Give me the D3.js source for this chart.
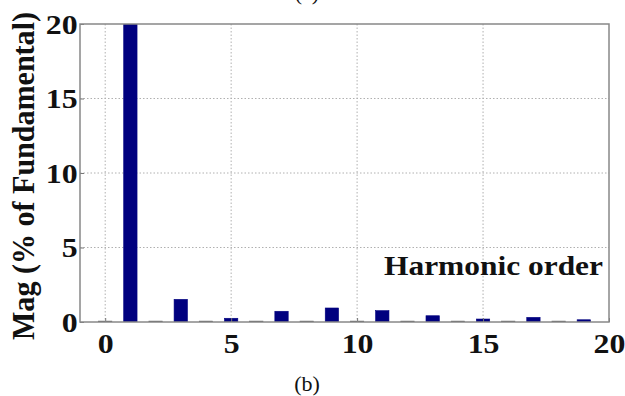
<!DOCTYPE html>
<html lang="en">
<head>
    <meta charset="UTF-8">
    <title>Harmonic spectrum</title>
    <style>
        body { margin: 0; background: #fff; }
        svg { display: block; }
        .serif { font-family: "Liberation Serif", "Times New Roman", Times, serif; }
    </style>
</head>
<body>
    <div id="chart"></div>
    <script src="https://d3js.org/d3.v7.min.js"></script>
    <script>

    // harmonic orders and their magnitudes (% of fundamental)
    const orders = [0, 1, 2, 3, 4, 5, 6, 7, 8, 9, 10, 11, 12, 13, 14, 15, 16, 17, 18, 19];
    const mags = [0.06, 100, 0.06, 1.52, 0.06, 0.25, 0.06, 0.72, 0.06, 0.94,
                  0.06, 0.76, 0.06, 0.42, 0.06, 0.2, 0.06, 0.31, 0.06, 0.15];
    const xTicks = [0, 5, 10, 15, 20];
    const yTicks = [0, 5, 10, 15, 20];

    const data = orders.map((o, i) => ({order: o, mag: mags[i]}));

    // set up the page
    const margin = {top: 24, right: 16, bottom: 74, left: 80},
        width = 625 - margin.left - margin.right,
        height = 396 - margin.top - margin.bottom;

    // the original picture is a bit stretched sideways, so are its letters
    const stretch = 1.18;

    const root = d3.select("#chart")
        .append("svg")
        .attr("width", 625)
        .attr("height", 396);

    const svg = root.append("g")
        .attr("transform", `translate(${margin.left}, ${margin.top})`);

    const x = d3.scaleLinear()
        .domain([-1, 20])
        .range([0, width]);

    const y = d3.scaleLinear()
        .domain([0, 20])
        .range([height, 0]);

    // dotted gridlines
    svg.append("g")
        .selectAll("line")
        .data(xTicks.filter(d => d < 20))
        .join("line")
        .attr("x1", d => x(d)).attr("x2", d => x(d))
        .attr("y1", 0).attr("y2", height)
        .attr("stroke", "#b0b0b0")
        .attr("stroke-width", 1)
        .attr("stroke-dasharray", "1.5,2");

    svg.append("g")
        .selectAll("line")
        .data(yTicks.filter(d => d > 0 && d < 20))
        .join("line")
        .attr("x1", 0).attr("x2", width)
        .attr("y1", d => y(d)).attr("y2", d => y(d))
        .attr("stroke", "#b0b0b0")
        .attr("stroke-width", 1)
        .attr("stroke-dasharray", "1.5,2");

    // clip so the fundamental is cut at the top
    svg.append("clipPath")
        .attr("id", "plot-clip")
        .append("rect")
        .attr("width", width)
        .attr("height", height);

    const barW = (x(1) - x(0)) * 0.53;

    svg.append("g")
        .attr("clip-path", "url(#plot-clip)")
        .selectAll("rect")
        .data(data)
        .join("rect")
        .attr("x", d => x(d.order) - barW / 2)
        .attr("y", d => y(d.mag))
        .attr("width", barW)
        .attr("height", d => height - y(d.mag))
        .attr("fill", d => d.order % 2 === 1 ? "#00007f" : "#555555")
        .attr("stroke", d => d.order % 2 === 1 ? "#00007f" : "#555555")
        .attr("stroke-width", 0.6);

    // axes (ticks point inward, like the reference)
    const xAxis = svg.append("g")
        .attr("transform", `translate(0, ${height})`)
        .call(d3.axisBottom(x).tickValues(xTicks).tickSize(-4));

    const yAxis = svg.append("g")
        .call(d3.axisLeft(y).tickValues(yTicks).tickSize(-4).tickPadding(4));

    [xAxis, yAxis].forEach(a => {
        a.attr("font-family", null).attr("font-size", null);
        a.select(".domain").remove();
        a.selectAll("line").attr("stroke", "#777");
        a.selectAll("text")
            .attr("class", "serif")
            .style("font-weight", "bold")
            .style("font-size", "27px")
            .attr("fill", "#111")
            .attr("transform", `scale(${stretch},1)`);
    });
    xAxis.selectAll("text").attr("dy", "0.71em").attr("y", 12);
    yAxis.selectAll("text").attr("dy", "0.34em").attr("x", -2);

    // frame
    svg.append("rect")
        .attr("width", width)
        .attr("height", height)
        .attr("fill", "none")
        .attr("stroke", "#888")
        .attr("stroke-width", 1.5);

    // x label sits inside the plot
    svg.append("text")
        .attr("class", "serif")
        .attr("x", width - 6)
        .attr("y", y(3.15))
        .attr("text-anchor", "end")
        .style("font-weight", "bold")
        .style("font-size", "27px")
        .attr("fill", "#111")
        .attr("textLength", 219)
        .attr("lengthAdjust", "spacingAndGlyphs")
        .text("Harmonic order");

    // y label
    root.append("text")
        .attr("class", "serif")
        .attr("transform", "rotate(-90)")
        .attr("x", -176)
        .attr("y", 34)
        .attr("text-anchor", "middle")
        .style("font-weight", "bold")
        .style("font-size", "31px")
        .attr("fill", "#111")
        .attr("textLength", 328)
        .attr("lengthAdjust", "spacingAndGlyphs")
        .text("Mag (% of Fundamental)");

    // sub-figure captions
    root.append("text")
        .attr("class", "serif")
        .attr("x", 307)
        .attr("y", 391)
        .attr("text-anchor", "middle")
        .style("font-size", "22px")
        .attr("fill", "#111")
        .text("(b)");

    // "(a)" of the panel above, mostly cut off at the top edge as in the reference
    root.append("text")
        .attr("class", "serif")
        .attr("x", 307)
        .attr("y", 0)
        .attr("text-anchor", "middle")
        .style("font-size", "22px")
        .attr("fill", "#111")
        .text("(a)");

    </script>
</body>
</html>
